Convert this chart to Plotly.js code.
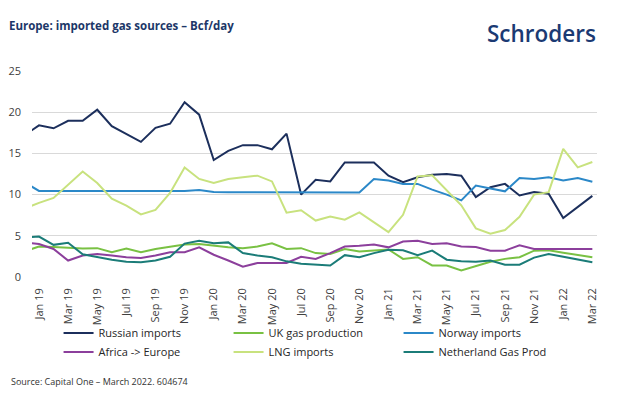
<!DOCTYPE html>
<html>
<head>
<meta charset="utf-8">
<script src="https://cdn.plot.ly/plotly-3.0.1.min.js"></script>
<style>
html,body{margin:0;padding:0;background:#fff;}
#chart{width:621px;height:397px;}
</style>
</head>
<body>
<div id="chart"></div>
<script>
const months = ["Dec 18","Jan 19","Feb 19","Mar 19","Apr 19","May 19","Jun 19","Jul 19","Aug 19","Sep 19","Oct 19","Nov 19","Dec 19",
  "Jan 20","Feb 20","Mar 20","Apr 20","May 20","Jun 20","Jul 20","Aug 20","Sep 20","Oct 20","Nov 20","Dec 20",
  "Jan 21","Feb 21","Mar 21","Apr 21","May 21","Jun 21","Jul 21","Aug 21","Sep 21","Oct 21","Nov 21","Dec 21",
  "Jan 22","Feb 22","Mar 22"];

const russianImports = [17.2, 18.4,18.05,18.95,18.95,20.3,18.3,17.4,16.4,18.1,18.6,
  21.2,19.7,14.2,15.3,16.0,16.0,15.5,17.4,10.0,11.8,
  11.6,13.9,13.9,13.9,12.3,11.5,12.1,12.4,12.5,12.3,
  9.7,10.9,11.3,9.9,10.3,10.1,7.15,8.5,9.85];

const ukGasProduction = [3.1, 3.7,3.65,3.55,3.45,3.5,3.0,3.45,3.0,3.4,3.7,
  3.95,4.0,3.8,3.6,3.5,3.7,4.1,3.4,3.5,2.9,
  2.8,3.4,3.1,3.25,3.35,2.2,2.4,1.4,1.4,0.8,
  1.3,1.85,2.2,2.4,3.2,3.25,2.95,2.7,2.4];

const norwayImports = [11.5, 10.45,10.45,10.45,10.45,10.45,10.45,10.45,10.45,10.45,10.45,
  10.45,10.55,10.32,10.3,10.3,10.3,10.28,10.28,10.28,10.26,
  10.26,10.26,10.26,11.9,11.7,11.3,11.3,10.6,10.0,9.3,
  11.1,10.75,10.4,12.0,11.9,12.1,11.7,12.0,11.55];

const africaEurope = [4.2, 4.0,3.4,2.0,2.6,2.8,2.6,2.4,2.3,2.6,3.0,
  3.0,3.6,2.7,2.0,1.25,1.7,1.7,1.7,2.45,2.2,
  2.9,3.7,3.8,3.95,3.6,4.3,4.4,4.0,4.1,3.7,
  3.65,3.2,3.2,3.85,3.4,3.4,3.4,3.4,3.4];

const lngImports = [8.3, 9.0,9.6,11.2,12.8,11.4,9.5,8.65,7.6,8.15,10.2,
  13.3,11.9,11.4,11.9,12.1,12.3,11.6,7.8,8.1,6.85,
  7.35,6.95,7.85,6.65,5.45,7.55,12.2,12.35,10.5,8.7,
  5.9,5.25,5.7,7.3,10.0,10.3,15.55,13.3,13.95];

const netherlandGasProd = [4.8, 4.9,3.9,4.15,2.75,2.4,2.1,1.85,1.8,2.0,2.45,
  4.05,4.4,4.1,4.2,2.9,2.6,2.4,1.9,1.6,1.5,
  1.4,2.65,2.4,2.9,3.3,3.25,2.65,3.2,2.1,1.9,
  1.85,2.0,1.5,1.5,2.35,2.8,2.45,2.1,1.8];

const seriesNames = ["Russian imports","UK gas production","Norway imports","Africa -> Europe","LNG imports","Netherland Gas Prod"];
const seriesValues = [russianImports, ukGasProduction, norwayImports, africaEurope, lngImports, netherlandGasProd];
const seriesColors = ["#1c2f5c","#79c143","#2b88c8","#8c3f9c","#c8e27e","#1b7c78"];

const yTicks = [0,5,10,15,20,25];
const tickLabels = months.filter((m, i) => i % 2 === 1);

const traces = seriesNames.map((name, i) => ({
  type: "scatter",
  mode: "lines",
  name: name,
  x: months,
  y: seriesValues[i],
  line: {color: seriesColors[i], width: 2},
  hoverinfo: "skip"
}));

const layout = {
  width: 621,
  height: 397,
  margin: {l: 32, r: 24, t: 71, b: 120},
  paper_bgcolor: "#ffffff",
  plot_bgcolor: "#ffffff",
  font: {family: "Open Sans, sans-serif", color: "#404040", size: 11},
  showlegend: true,
  xaxis: {
    type: "category",
    range: [0.52, 39.32],
    tickmode: "array",
    tickvals: tickLabels,
    ticktext: tickLabels,
    tickangle: -90,
    showgrid: false,
    zeroline: false,
    showline: false,
    ticks: "",
    ticklabelstandoff: 8,
    tickfont: {size: 11, color: "#404040"}
  },
  yaxis: {
    range: [0, 25],
    tickmode: "array",
    tickvals: yTicks,
    showgrid: true,
    gridcolor: "#d9d9d9",
    gridwidth: 1,
    zeroline: false,
    showline: false,
    ticks: "",
    ticklabelstandoff: 10,
    tickfont: {size: 11, color: "#404040"}
  },
  legend: {
    orientation: "h",
    x: 0.047,
    xanchor: "left",
    y: -0.202,
    yanchor: "top",
    entrywidth: 125,
    entrywidthmode: "pixels",
    font: {size: 11, color: "#262626"},
    tracegroupgap: 0,
    itemwidth: 30,
    bgcolor: "rgba(0,0,0,0)"
  },
  title: {
    text: "<b>Europe: imported gas sources – Bcf/day</b>",
    xref: "container",
    yref: "container",
    x: 9/621,
    xanchor: "left",
    y: 1 - 26/397,
    yanchor: "middle",
    font: {family: "Open Sans, sans-serif", size: 11.5, color: "#1c3768"}
  },
  annotations: [
    {
      text: "Schroders",
      xref: "paper", yref: "paper",
      x: 1 + 1/565, xanchor: "right",
      y: 1 + (71 - 33) / 206, yanchor: "middle",
      showarrow: false,
      font: {family: "Open Sans, sans-serif", size: 22.5, color: "#1b3a73", weight: 600}
    },
    {
      text: "Source: Capital One – March 2022. 604674",
      xref: "paper", yref: "paper",
      x: (9 - 32) / 565, xanchor: "left",
      y: -(381 - 277) / 206, yanchor: "middle",
      showarrow: false,
      font: {family: "Open Sans, sans-serif", size: 9, color: "#333333"}
    }
  ]
};

Plotly.newPlot("chart", traces, layout, {displayModeBar: false, staticPlot: true});
</script>
</body>
</html>
